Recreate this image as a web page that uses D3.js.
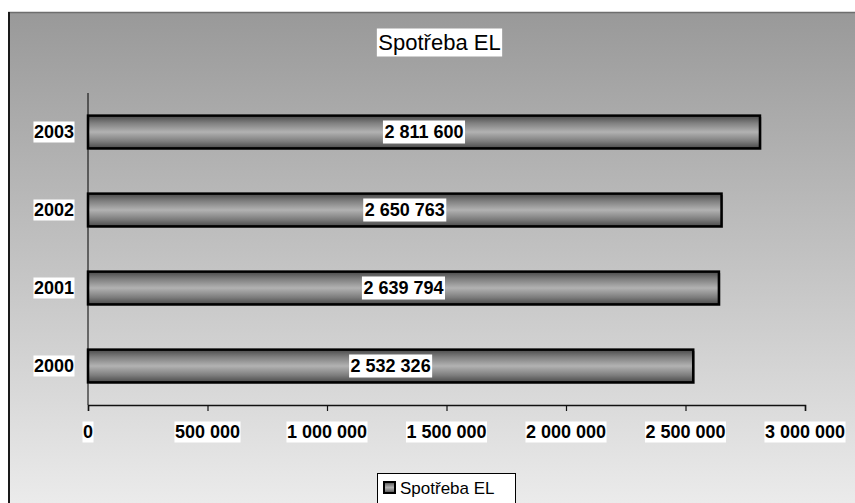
<!DOCTYPE html>
<html>
<head>
<meta charset="utf-8">
<script src="https://cdn.jsdelivr.net/npm/d3@7/dist/d3.min.js"></script>
<style>
  html, body { margin: 0; padding: 0; background: #ffffff; }
  svg { display: block; font-family: "Liberation Sans", Arial, sans-serif; }
</style>
</head>
<body>
<svg id="chart" width="855" height="503"></svg>
<script>
// Annual electricity consumption
const title = "Spotřeba EL";
const seriesName = "Spotřeba EL";
const years = ["2003", "2002", "2001", "2000"];
const consumption = [2811600, 2650763, 2639794, 2532326];
const xTicks = [0, 500000, 1000000, 1500000, 2000000, 2500000, 3000000];

const svg = d3.select("#chart");
const defs = svg.append("defs");

// Chart area background: vertical grey fade
const bg = defs.append("linearGradient").attr("id", "bgGrad")
  .attr("gradientUnits", "userSpaceOnUse")
  .attr("x1", 0).attr("y1", 12).attr("x2", 0).attr("y2", 503);
bg.append("stop").attr("offset", 0).attr("stop-color", "#999999");
bg.append("stop").attr("offset", 1).attr("stop-color", "#ebebeb");

// Bar fill: cylinder-like shading, dark edges and light middle
const barGrad = defs.append("linearGradient").attr("id", "barGrad")
  .attr("x1", 0).attr("y1", 0).attr("x2", 0).attr("y2", 1);
[[0, "#4a4a4a"], [0.22, "#7e7e7e"], [0.5, "#b2b2b2"], [0.78, "#7e7e7e"], [1, "#4a4a4a"]]
  .forEach(([o, c]) => barGrad.append("stop").attr("offset", o).attr("stop-color", c));

// Frame
svg.append("rect").attr("x", 8).attr("y", 12).attr("width", 870).attr("height", 510)
  .attr("fill", "url(#bgGrad)");
svg.append("line").attr("x1", 8).attr("y1", 12.5).attr("x2", 855).attr("y2", 12.5)
  .attr("stroke", "#6e6e6e").attr("stroke-width", 1.5);
svg.append("line").attr("x1", 9).attr("y1", 12).attr("x2", 9).attr("y2", 503)
  .attr("stroke", "#1a1a1a").attr("stroke-width", 2);

// Scales
const plot = { left: 88, right: 805, top: 93, bottom: 405 };
const x = d3.scaleLinear().domain([0, 3000000]).range([plot.left, plot.right]);
const y = d3.scaleBand().domain(years).range([plot.top, plot.bottom])
  .paddingInner(0.58).paddingOuter(0.29);

const fmt = v => d3.format(",")(v).replace(/,/g, " ");

// Text with a white backing box
function boxedText(g, str, tx, ty, anchor, font, pad) {
  const grp = g.append("g");
  const bgRect = grp.append("rect").attr("fill", "#ffffff");
  const t = grp.append("text").attr("x", tx).attr("y", ty)
    .attr("text-anchor", anchor).attr("dominant-baseline", "central")
    .style("font", font).attr("fill", "#000").text(str);
  const b = t.node().getBBox();
  bgRect.attr("x", b.x - pad).attr("y", b.y - pad)
    .attr("width", b.width + 2 * pad).attr("height", b.height + 2 * pad);
  return grp;
}

// Title
boxedText(svg, title, 439.5, 42.5, "middle", "22px 'Liberation Sans', Arial, sans-serif", 1.5);

// Bars
const bars = svg.append("g");
years.forEach((yr, i) => {
  const v = consumption[i];
  bars.append("rect")
    .attr("x", x(0) + 1.5).attr("y", y(yr) + 1.5)
    .attr("width", x(v) - x(0)).attr("height", y.bandwidth())
    .attr("fill", "#555").attr("opacity", 0.6);
  bars.append("rect")
    .attr("x", x(0)).attr("y", y(yr))
    .attr("width", x(v) - x(0)).attr("height", y.bandwidth())
    .attr("fill", "url(#barGrad)")
    .attr("stroke", "#000").attr("stroke-width", 2.5);
});

// Y axis line (no ticks)
svg.append("line").attr("x1", plot.left).attr("x2", plot.left)
  .attr("y1", plot.top).attr("y2", plot.bottom)
  .attr("stroke", "#000").attr("stroke-width", 1);

// X axis
const xAxis = d3.axisBottom(x).tickValues(xTicks).tickSize(6).tickSizeOuter(6).tickFormat("");
const gx = svg.append("g").attr("transform", `translate(0,${plot.bottom})`).call(xAxis);
gx.select(".domain").attr("stroke", "#111").attr("stroke-width", 1.5);
gx.selectAll(".tick line").attr("stroke", "#111").attr("stroke-width", 1.2);

const boldFont = "bold 18px 'Liberation Sans', Arial, sans-serif";
xTicks.forEach(t => boxedText(svg, fmt(t), x(t), 432, "middle", boldFont, 0.5));

// Category labels
years.forEach(yr => boxedText(svg, yr, 74, y(yr) + y.bandwidth() / 2, "end", boldFont, 0.5));

// Value labels centered on each bar
years.forEach((yr, i) => {
  const v = consumption[i];
  boxedText(svg, fmt(v), (x(0) + x(v)) / 2, y(yr) + y.bandwidth() / 2, "middle", boldFont, 1.5);
});

// Legend
const lg = svg.append("g");
lg.append("rect").attr("x", 377.5).attr("y", 473.5).attr("width", 138).attr("height", 40)
  .attr("fill", "#fff").attr("stroke", "#000").attr("stroke-width", 1);
lg.append("rect").attr("x", 384).attr("y", 482).attr("width", 11).attr("height", 11)
  .attr("fill", "url(#barGrad)").attr("stroke", "#000").attr("stroke-width", 2);
lg.append("text").attr("x", 400).attr("y", 493.5)
  .style("font", "17px 'Liberation Sans', Arial, sans-serif").attr("fill", "#000")
  .text(seriesName);
</script>
</body>
</html>
